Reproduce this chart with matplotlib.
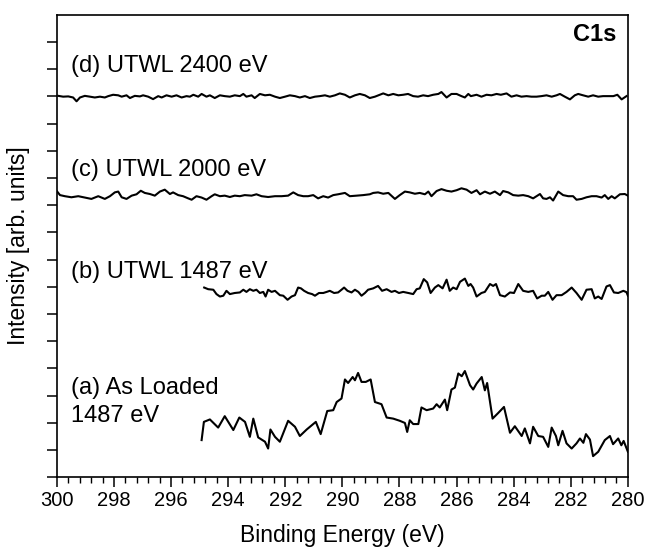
import numpy as np
import matplotlib
matplotlib.use("Agg")
import matplotlib.pyplot as plt
from matplotlib.ticker import MultipleLocator

plt.rcParams['font.family'] = ['Liberation Sans', 'DejaVu Sans']

# (a) As Loaded, 1487 eV
be_a = [294.93, 294.85, 294.64, 294.35, 294.12, 293.82, 293.61, 293.41, 293.24, 293.12,
        292.95, 292.71, 292.60, 292.52, 292.36, 292.19, 291.90, 291.66, 291.49, 291.25,
        290.93, 290.76, 290.53, 290.32, 290.20, 290.03, 289.91, 289.80, 289.64, 289.56,
        289.45, 289.33, 289.18, 289.01, 288.86, 288.63, 288.45, 288.22, 287.99, 287.81,
        287.73, 287.64, 287.52, 287.34, 287.23, 287.05, 286.82, 286.70, 286.59, 286.41,
        286.33, 286.18, 286.06, 285.94, 285.82, 285.71, 285.53, 285.42, 285.30, 285.12,
        285.01, 284.93, 284.74, 284.54, 284.34, 284.13, 283.96, 283.72, 283.61, 283.43,
        283.32, 283.14, 282.97, 282.79, 282.67, 282.52, 282.44, 282.29, 282.15, 281.97,
        281.80, 281.68, 281.56, 281.47, 281.33, 281.22, 281.04, 280.81, 280.63, 280.52,
        280.34, 280.23, 280.15, 280.00]
int_a = [1.36, 2.03, 2.12, 1.82, 2.24, 1.73, 2.19, 2.03, 1.48, 2.15,
         1.46, 1.30, 1.05, 1.75, 1.48, 1.30, 2.07, 1.85, 1.51, 1.75,
         2.03, 1.58, 2.43, 2.46, 2.76, 2.89, 3.59, 3.46, 3.68, 3.56,
         3.83, 3.50, 3.50, 3.59, 2.76, 2.68, 2.19, 2.15, 2.07, 1.99,
         1.66, 2.09, 1.95, 1.95, 2.56, 2.46, 2.52, 2.68, 2.56, 2.85,
         2.46, 3.22, 3.29, 3.81, 3.71, 3.90, 3.38, 3.22, 3.44, 3.68,
         3.19, 3.46, 2.15, 2.36, 2.58, 1.63, 1.87, 1.51, 1.79, 1.24,
         1.85, 1.51, 1.48, 1.11, 1.82, 1.51, 1.17, 1.70, 1.24, 1.05,
         1.24, 1.42, 1.26, 1.58, 1.38, 0.77, 0.93, 1.36, 1.51, 1.21,
         1.42, 1.17, 1.33, 0.93]

# (b) UTWL 1487 eV
be_b = [294.84, 294.70, 294.52, 294.41, 294.29, 294.17, 294.06, 293.94, 293.77, 293.59,
        293.47, 293.36, 293.24, 293.12, 293.01, 292.89, 292.77, 292.69, 292.60, 292.48,
        292.36, 292.19, 292.07, 291.92, 291.78, 291.66, 291.55, 291.45, 291.34, 291.20,
        291.06, 290.96, 290.82, 290.67, 290.55, 290.44, 290.29, 290.15, 290.03, 289.94,
        289.82, 289.68, 289.56, 289.44, 289.33, 289.21, 289.10, 288.92, 288.75, 288.61,
        288.45, 288.28, 288.16, 288.02, 287.87, 287.69, 287.52, 287.40, 287.29, 287.15,
        287.03, 286.91, 286.76, 286.64, 286.49, 286.35, 286.24, 286.12, 286.00, 285.88,
        285.71, 285.59, 285.51, 285.42, 285.30, 285.13, 285.01, 284.83, 284.72, 284.62,
        284.48, 284.31, 284.13, 283.99, 283.84, 283.67, 283.49, 283.32, 283.18, 283.02,
        282.91, 282.79, 282.64, 282.50, 282.32, 282.15, 281.97, 281.80, 281.62, 281.45,
        281.27, 281.16, 281.04, 280.92, 280.75, 280.63, 280.49, 280.34, 280.16, 280.05,
        280.00]
int_b = [6.97, 6.91, 6.89, 6.73, 6.64, 6.67, 6.85, 6.73, 6.77, 6.79,
         6.89, 6.81, 6.91, 6.85, 6.89, 6.77, 6.81, 6.64, 6.89, 6.81,
         6.85, 6.69, 6.67, 6.52, 6.64, 6.69, 6.97, 6.94, 6.85, 6.77,
         6.73, 6.67, 6.77, 6.77, 6.81, 6.85, 6.77, 6.79, 6.89, 6.97,
         6.85, 6.79, 6.89, 6.81, 6.67, 6.77, 6.89, 6.94, 7.03, 6.85,
         6.91, 6.81, 6.85, 6.77, 6.81, 6.77, 6.73, 6.91, 6.94, 7.28,
         7.16, 6.77, 6.97, 7.06, 6.94, 7.26, 6.85, 6.97, 6.91, 7.18,
         7.30, 7.03, 7.10, 6.97, 6.64, 6.77, 6.81, 7.10, 7.03, 7.10,
         6.69, 6.64, 6.79, 6.77, 7.10, 6.85, 6.81, 6.85, 6.57, 6.67,
         6.67, 6.81, 6.52, 6.69, 6.69, 6.81, 6.97, 6.77, 6.52, 6.89,
         6.91, 6.57, 6.64, 6.55, 7.01, 7.06, 6.79, 6.77, 6.85, 6.80,
         6.67]

# (c) UTWL 2000 eV
be_c = [300.01, 299.89, 299.72, 299.49, 299.25, 299.02, 298.79, 298.55, 298.32, 298.14,
        297.97, 297.85, 297.73, 297.56, 297.38, 297.21, 297.06, 296.92, 296.74, 296.57,
        296.39, 296.22, 296.04, 295.93, 295.75, 295.58, 295.40, 295.28, 295.11, 294.93,
        294.76, 294.58, 294.47, 294.29, 294.12, 293.94, 293.77, 293.59, 293.42, 293.18,
        293.01, 292.83, 292.60, 292.36, 292.13, 291.90, 291.72, 291.55, 291.37, 291.20,
        291.02, 290.85, 290.67, 290.50, 290.32, 290.15, 289.91, 289.74, 289.50, 289.27,
        289.04, 288.92, 288.75, 288.57, 288.39, 288.16, 287.99, 287.81, 287.64, 287.46,
        287.29, 287.11, 286.99, 286.88, 286.70, 286.53, 286.35, 286.18, 286.00, 285.83,
        285.65, 285.48, 285.30, 285.18, 285.01, 284.83, 284.66, 284.48, 284.37, 284.19,
        284.02, 283.84, 283.67, 283.49, 283.32, 283.20, 283.08, 282.97, 282.85, 282.73,
        282.62, 282.44, 282.27, 282.09, 281.92, 281.80, 281.62, 281.45, 281.27, 281.10,
        280.92, 280.81, 280.69, 280.57, 280.46, 280.28, 280.11, 280.00]
int_c = [10.53, 10.37, 10.33, 10.29, 10.33, 10.28, 10.23, 10.33, 10.23, 10.33,
         10.47, 10.50, 10.29, 10.23, 10.35, 10.40, 10.53, 10.45, 10.41, 10.35,
         10.50, 10.57, 10.41, 10.47, 10.37, 10.33, 10.25, 10.20, 10.33, 10.28,
         10.20, 10.33, 10.40, 10.33, 10.35, 10.30, 10.35, 10.33, 10.37, 10.35,
         10.40, 10.33, 10.30, 10.33, 10.33, 10.35, 10.47, 10.37, 10.33, 10.33,
         10.37, 10.25, 10.33, 10.28, 10.37, 10.40, 10.45, 10.33, 10.35, 10.37,
         10.40, 10.45, 10.47, 10.42, 10.45, 10.23, 10.37, 10.50, 10.47, 10.42,
         10.45, 10.40, 10.50, 10.33, 10.52, 10.59, 10.53, 10.50, 10.55, 10.62,
         10.57, 10.45, 10.55, 10.40, 10.50, 10.42, 10.50, 10.37, 10.52, 10.47,
         10.37, 10.35, 10.37, 10.33, 10.25, 10.33, 10.41, 10.25, 10.23, 10.29,
         10.17, 10.50, 10.37, 10.33, 10.33, 10.20, 10.23, 10.29, 10.33, 10.33,
         10.28, 10.37, 10.23, 10.33, 10.25, 10.40, 10.41, 10.35]

# (d) UTWL 2400 eV
be_d = [299.95, 299.78, 299.60, 299.43, 299.31, 299.19, 299.02, 298.84, 298.67, 298.49,
        298.32, 298.20, 298.03, 297.85, 297.73, 297.56, 297.44, 297.27, 297.09, 296.98,
        296.80, 296.63, 296.45, 296.33, 296.16, 295.98, 295.81, 295.63, 295.46, 295.34,
        295.22, 295.05, 294.93, 294.76, 294.64, 294.47, 294.29, 294.12, 293.94, 293.77,
        293.59, 293.47, 293.36, 293.18, 293.07, 292.89, 292.71, 292.54, 292.36, 292.19,
        292.01, 291.84, 291.66, 291.49, 291.31, 291.14, 290.96, 290.79, 290.61, 290.44,
        290.26, 290.09, 289.91, 289.74, 289.56, 289.39, 289.21, 289.04, 288.86, 288.69,
        288.57, 288.39, 288.22, 288.04, 287.87, 287.70, 287.52, 287.35, 287.17, 287.00,
        286.82, 286.64, 286.53, 286.35, 286.18, 286.00, 285.83, 285.71, 285.59, 285.50,
        285.30, 285.13, 284.95, 284.78, 284.60, 284.45, 284.25, 284.08, 283.90, 283.73,
        283.55, 283.38, 283.20, 283.03, 282.85, 282.67, 282.50, 282.38, 282.21, 282.03,
        281.86, 281.74, 281.57, 281.39, 281.22, 281.04, 280.87, 280.69, 280.51, 280.37,
        280.22, 280.05]
int_d = [14.02, 13.99, 14.00, 13.96, 13.82, 13.96, 14.02, 13.99, 13.96, 13.99,
         13.96, 14.01, 14.06, 14.04, 13.99, 14.04, 13.94, 14.02, 14.00, 14.04,
         13.99, 13.90, 14.01, 13.96, 14.04, 13.99, 14.04, 13.96, 14.01, 13.99,
         14.06, 13.99, 14.09, 13.99, 14.04, 13.94, 14.04, 14.01, 13.99, 14.04,
         14.01, 14.09, 13.99, 14.04, 13.94, 14.09, 14.04, 14.06, 13.99, 13.94,
         13.99, 14.04, 14.01, 13.96, 14.01, 13.94, 13.99, 14.01, 14.04, 13.99,
         14.04, 14.11, 14.06, 13.96, 14.04, 14.09, 14.04, 13.94, 13.99, 14.06,
         14.11, 14.04, 14.09, 14.04, 14.06, 14.09, 14.01, 13.99, 14.04, 14.01,
         14.06, 14.09, 14.16, 13.96, 14.09, 14.09, 14.01, 13.96, 14.09, 14.01,
         14.06, 13.99, 14.06, 14.04, 14.09, 14.06, 14.11, 13.99, 14.04, 13.99,
         14.01, 13.99, 13.99, 14.01, 14.04, 13.99, 14.04, 14.09, 13.99, 13.89,
         14.04, 14.09, 14.04, 13.99, 14.04, 13.99, 14.01, 14.01, 14.01, 14.06,
         13.89, 14.01]

labels = ["(a) As Loaded\n1487 eV", "(b) UTWL 1487 eV", "(c) UTWL 2000 eV", "(d) UTWL 2400 eV"]
label_y = [2.75, 7.53, 11.3, 15.12]

fig = plt.figure(figsize=(6.46, 5.49), dpi=100)
ax = fig.add_axes([0.088, 0.131, 0.884, 0.842])

for be, it in [(be_a, int_a), (be_b, int_b), (be_c, int_c), (be_d, int_d)]:
    ax.plot(be, it, color='black', lw=1.5)

for lab, ly in zip(labels, label_y):
    ax.text(299.52, ly, lab, fontsize=17, va='center', ha='left', linespacing=1.33)

ax.text(280.4, 16.26, "C1s", fontsize=17, fontweight='bold', ha='right', va='center')

ax.set_xlim(300, 280)
ax.set_ylim(0, 17)
ax.xaxis.set_major_locator(MultipleLocator(2))
ax.xaxis.set_minor_locator(MultipleLocator(0.4))
ax.set_yticks(np.arange(0, 17))
ax.set_yticklabels([])
ax.tick_params(axis='x', which='major', direction='out', length=7, width=1.1, labelsize=14.5, pad=3)
ax.tick_params(axis='x', which='minor', direction='out', length=4, width=1.0)
ax.tick_params(axis='y', which='major', direction='out', length=7, width=1.1)
for s in ax.spines.values():
    s.set_linewidth(1.2)

ax.set_xlabel("Binding Energy (eV)", fontsize=16.5, labelpad=10)
ax.set_ylabel("Intensity [arb. units]", fontsize=16.5, labelpad=9)

fig.savefig("out.png", dpi=100)
